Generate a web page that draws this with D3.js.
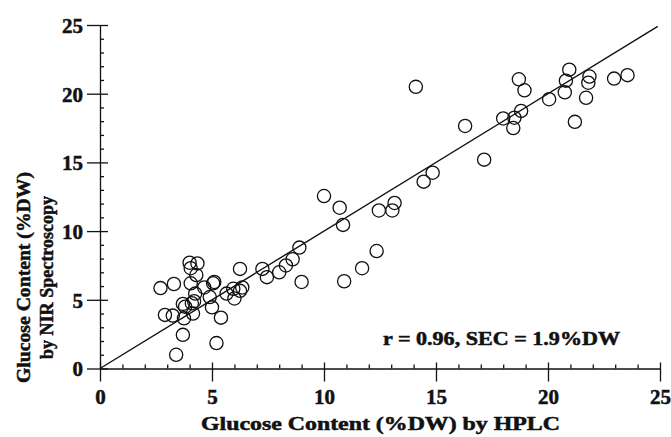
<!DOCTYPE html>
<meta charset="utf-8">
<style>
body { margin: 0; background: #fff; }
svg text { font-family: "Liberation Serif", "Times New Roman", serif; font-weight: bold; fill: #111; stroke: #111; stroke-width: 0.5; }
.axis path, .axis line { stroke: #111; stroke-width: 1.3; }
.pt { fill: none; stroke: #111; stroke-width: 1.3; }
.fit { fill: none; stroke: #111; stroke-width: 1.4; }
</style>
<svg id="chart" width="671" height="437"></svg>
<script src="https://d3js.org/d3.v7.min.js"></script>
<script>

// values: [HPLC, NIR]
var hplc = [2.7, 3.3, 2.9, 3.25, 3.7, 3.4, 5.2, 5.4,
  4.0, 4.35, 4.05, 4.3, 4.05, 4.65, 5.05, 5.1,
  4.25, 4.9, 5.0, 3.7, 3.8, 4.1, 4.2, 4.15, 3.75,
  5.65, 5.95, 6.0, 6.35, 6.25, 6.25,
  7.25, 7.45, 8.0, 8.3, 8.6, 8.9, 9.0,
  10.0, 10.7, 10.85, 10.9, 11.7, 12.35, 12.45, 13.05, 13.15,
  14.45, 14.85, 14.1, 16.3, 17.15, 18.0, 18.5, 18.8, 18.45, 18.7, 18.95,
  20.05, 20.95, 20.8, 20.75, 21.85, 21.8, 21.7, 21.2, 22.95, 23.55];
var nir = [5.85, 6.15, 3.9, 3.85, 2.45, 1.0, 1.85, 3.7,
  7.7, 7.65, 7.3, 6.8, 6.2, 5.9, 6.2, 6.3,
  5.45, 5.2, 4.45, 4.7, 4.5, 4.75, 4.9, 4.0, 3.65,
  5.45, 5.8, 5.1, 5.9, 5.65, 7.25,
  7.25, 6.65, 7.0, 7.5, 7.95, 8.8, 6.3,
  12.55, 11.7, 10.45, 6.35, 7.3, 8.55, 11.5, 11.5, 12.05,
  13.6, 14.25, 20.5, 17.65, 15.2, 18.2, 18.25, 18.75, 17.5, 21.05, 20.25,
  19.6, 21.75, 20.95, 20.1, 21.25, 20.8, 19.7, 17.95, 21.1, 21.35];
var fitLine = [[0, 0], [24.9, 24.9]];
var majorTicks = [0, 5, 10, 15, 20, 25];
var minorTicks = d3.range(1, 25).filter(function(d) { return d % 5 !== 0; });

var svg = d3.select("#chart");

var x = d3.scaleLinear().domain([0, 25]).range([100, 660]);
var y = d3.scaleLinear().domain([0, 25]).range([368.5, 25]);

var serif = '"Liberation Serif", "Times New Roman", serif';

// x axis
var gx = svg.append("g").attr("class", "axis").attr("transform", "translate(0,368.5)");
gx.call(d3.axisBottom(x).tickValues(minorTicks).tickSize(-4).tickSizeOuter(0).tickFormat(""));
gx.select(".domain").remove();
var gx2 = svg.append("g").attr("class", "axis").attr("transform", "translate(0,368.5)");
gx2.call(d3.axisBottom(x).tickValues(majorTicks).tickSize(13).tickSizeOuter(0));
gx2.selectAll(".tick line").attr("y1", -6);
gx2.selectAll(".tick text").attr("y", 35.5).attr("dy", 0)
  .style("font-family", serif).style("font-size", "21px").style("font-weight", "bold");

// y axis
var gy = svg.append("g").attr("class", "axis").attr("transform", "translate(100,0)");
gy.call(d3.axisLeft(y).tickValues(minorTicks).tickSize(-4).tickSizeOuter(0).tickFormat(""));
gy.select(".domain").remove();
var gy2 = svg.append("g").attr("class", "axis").attr("transform", "translate(100,0)");
gy2.call(d3.axisLeft(y).tickValues(majorTicks).tickSize(13).tickSizeOuter(0));
gy2.selectAll(".tick line").attr("x1", 8);
gy2.selectAll(".tick text").attr("x", -17).attr("dy", "0.35em")
  .style("font-family", serif).style("font-size", "21px").style("font-weight", "bold");

svg.selectAll(".axis").attr("font-family", null).attr("font-size", null);

// fit line
svg.append("path")
  .datum(fitLine)
  .attr("class", "fit")
  .attr("d", d3.line().x(function(d) { return x(d[0]); }).y(function(d) { return y(d[1]); }));

// points
svg.append("g").selectAll("circle")
  .data(d3.range(hplc.length))
  .enter().append("circle")
  .attr("class", "pt")
  .attr("cx", function(i) { return x(hplc[i]); })
  .attr("cy", function(i) { return y(nir[i]); })
  .attr("r", 6.6);

// titles
svg.append("text")
  .attr("x", 380.5).attr("y", 430)
  .attr("text-anchor", "middle")
  .attr("textLength", 359).attr("lengthAdjust", "spacingAndGlyphs")
  .style("font-size", "18px")
  .text("Glucose Content (%DW) by HPLC");

var yt = svg.append("text")
  .attr("transform", "translate(30,277.5) rotate(-90)")
  .attr("text-anchor", "middle")
  .style("font-size", "19px");
yt.append("tspan").attr("x", 0).attr("y", 0)
  .attr("textLength", 211).attr("lengthAdjust", "spacingAndGlyphs")
  .text("Glucose Content (%DW)");
yt.append("tspan").attr("x", 0).attr("y", 23)
  .attr("textLength", 163).attr("lengthAdjust", "spacingAndGlyphs")
  .text("by NIR Spectroscopy");

svg.append("text")
  .attr("x", 501.5).attr("y", 345)
  .attr("text-anchor", "middle")
  .attr("textLength", 237).attr("lengthAdjust", "spacingAndGlyphs")
  .style("font-size", "18px")
  .text("r = 0.96, SEC = 1.9%DW");

</script>
